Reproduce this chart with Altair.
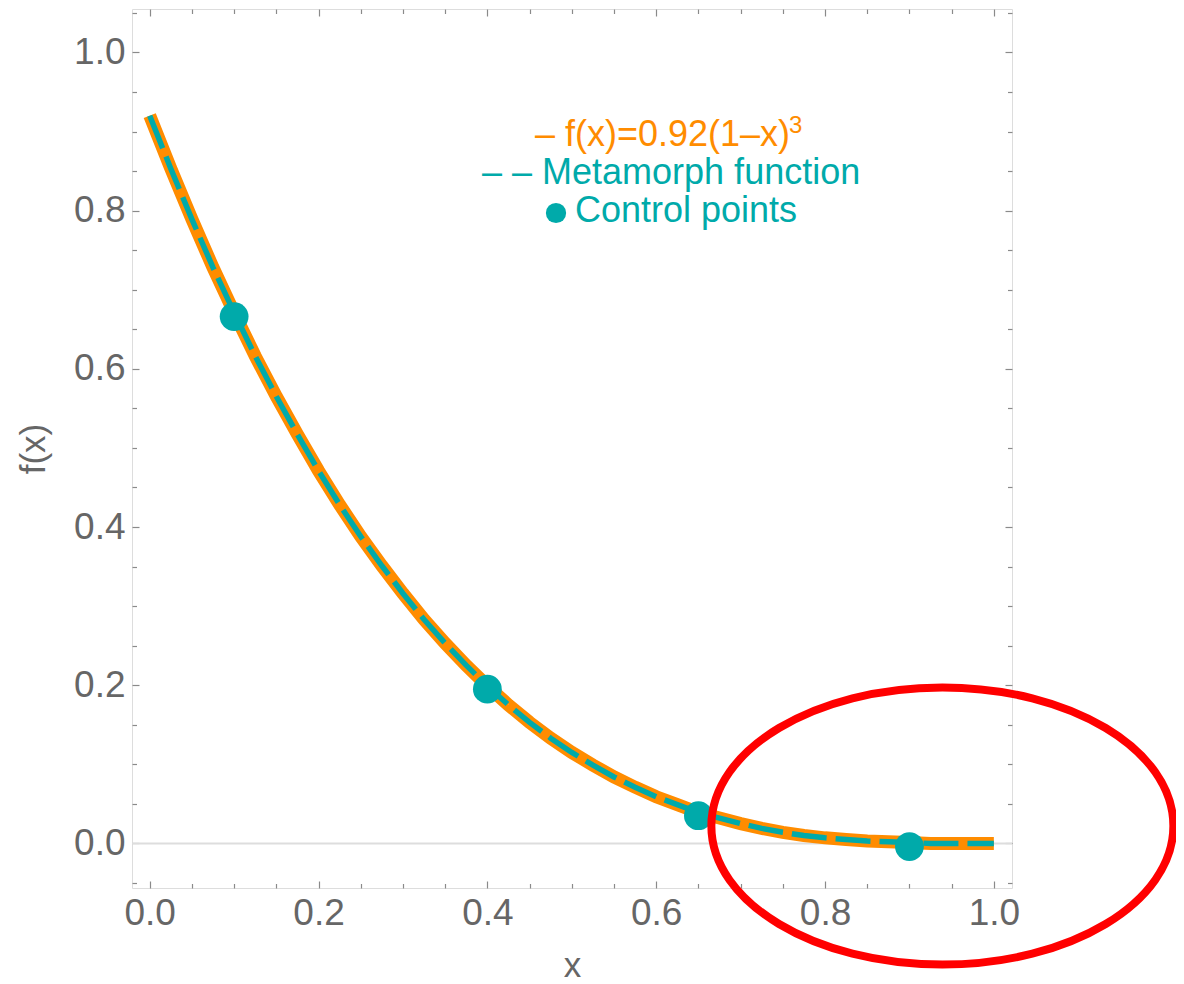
import altair as alt
import pandas as pd

# ---- data ----
x_grid = [0.0, 0.025, 0.05, 0.075, 0.1, 0.125, 0.15, 0.175, 0.2, 0.225, 0.25, 0.275, 0.3,
          0.325, 0.35, 0.375, 0.4, 0.425, 0.45, 0.475, 0.5, 0.525, 0.55, 0.575, 0.6, 0.625,
          0.65, 0.675, 0.7, 0.725, 0.75, 0.775, 0.8, 0.825, 0.85, 0.875, 0.9, 0.925, 0.95,
          0.975, 1.0]
f_vals = [0.920, 0.853, 0.789, 0.728, 0.671, 0.616, 0.565, 0.517, 0.471, 0.428, 0.388,
          0.351, 0.316, 0.283, 0.253, 0.225, 0.199, 0.175, 0.153, 0.133, 0.115, 0.099,
          0.084, 0.071, 0.059, 0.049, 0.039, 0.032, 0.025, 0.019, 0.014, 0.010, 0.007,
          0.005, 0.003, 0.002, 0.001, 0.000, 0.000, 0.000, 0.000]
meta_vals = [0.920, 0.853, 0.789, 0.728, 0.671, 0.616, 0.565, 0.517, 0.471, 0.428, 0.388,
             0.351, 0.316, 0.283, 0.253, 0.225, 0.199, 0.175, 0.153, 0.133, 0.115, 0.099,
             0.084, 0.071, 0.059, 0.049, 0.039, 0.032, 0.025, 0.019, 0.014, 0.010, 0.007,
             0.005, 0.003, 0.002, 0.001, 0.000, 0.000, 0.000, 0.000]
ctrl_x = [0.1, 0.4, 0.65, 0.9]
ctrl_y = [0.666, 0.195, 0.035, -0.004]

x_major = [0.0, 0.2, 0.4, 0.6, 0.8, 1.0]
x_minor = [0.05, 0.1, 0.15, 0.25, 0.3, 0.35, 0.45, 0.5, 0.55, 0.65, 0.7, 0.75, 0.85, 0.9, 0.95]
y_major = [0.0, 0.2, 0.4, 0.6, 0.8, 1.0]
y_minor = [-0.05, 0.05, 0.1, 0.15, 0.25, 0.3, 0.35, 0.45, 0.5, 0.55, 0.65, 0.7, 0.75,
           0.85, 0.9, 0.95, 1.05]

ellipse_x = [0.939]
ellipse_y = [0.022]

legend_f = "– f(x)=0.92(1–x)"
legend_sup = "3"
legend_meta = "– – Metamorph function"
legend_ctrl = "Control points"

# ---- styling ----
W, H = 880, 879
ORANGE = "#FF8C00"
TEAL = "#00AAAA"
GREY = "#666666"
FRAME = "#8a8a8a"
FONT = "Liberation Sans"

xs = alt.Scale(domain=[-0.021, 1.0215], nice=False, zero=False)
ys = alt.Scale(domain=[-0.0564, 1.0549], nice=False, zero=False)

curve = pd.DataFrame({"x": x_grid, "f": f_vals, "m": meta_vals})
ctrl = pd.DataFrame({"x": ctrl_x, "y": ctrl_y})
ell = pd.DataFrame({"x": ellipse_x, "y": ellipse_y})
zero = pd.DataFrame({"y": [0.0]})
one = pd.DataFrame({"k": [0]})

main_x_axis = alt.Axis(values=x_major, format=".1f", labelFontSize=37, labelColor=GREY,
                       labelFont=FONT, ticks=False, tickSize=0, domain=False, grid=False,
                       labelPadding=7, title="x", titleFontSize=35, titleColor=GREY,
                       titleFont=FONT, titleFontWeight="normal", titlePadding=17)
main_y_axis = alt.Axis(values=y_major, format=".1f", labelFontSize=37, labelColor=GREY,
                       labelFont=FONT, ticks=False, tickSize=0, domain=False, grid=False,
                       labelPadding=7, title="f(x)", titleFontSize=35, titleColor=GREY,
                       titleFont=FONT, titleFontWeight="normal", titlePadding=22)

zero_rule = alt.Chart(zero).mark_rule(color="#dddddd", strokeWidth=2).encode(
    y=alt.Y("y:Q", scale=ys, axis=main_y_axis))

orange_line = alt.Chart(curve).mark_line(color=ORANGE, strokeWidth=13, strokeCap="butt").encode(
    x=alt.X("x:Q", scale=xs, axis=main_x_axis),
    y=alt.Y("f:Q", scale=ys, axis=None))

teal_line = alt.Chart(curve).mark_line(color=TEAL, strokeWidth=5.5, strokeDash=[35, 9],
                                       strokeCap="butt").encode(
    x=alt.X("x:Q", scale=xs, axis=None),
    y=alt.Y("m:Q", scale=ys, axis=None))

points = alt.Chart(ctrl).mark_circle(color=TEAL, opacity=1, size=830).encode(
    x=alt.X("x:Q", scale=xs, axis=None),
    y=alt.Y("y:Q", scale=ys, axis=None))


def tick_layer(xvals, yvals, size, xorient, yorient):
    return alt.Chart(ctrl).mark_point(opacity=0).encode(
        x=alt.X("x:Q", scale=xs, axis=alt.Axis(
            values=xvals, orient=xorient, offset=-H, tickSize=size, tickColor=FRAME,
            tickWidth=1.2, labels=False, domain=False, grid=False, title=None)),
        y=alt.Y("y:Q", scale=ys, axis=alt.Axis(
            values=yvals, orient=yorient, offset=-W, tickSize=size, tickColor=FRAME,
            tickWidth=1.2, labels=False, domain=False, grid=False, title=None)))


t1 = tick_layer(x_major, y_major, 7, "top", "right")
t2 = tick_layer(x_minor, y_minor, 4.5, "top", "right")
t3 = tick_layer(x_major, y_major, 7, "bottom", "left")
t4 = tick_layer(x_minor, y_minor, 4.5, "bottom", "left")

ellipse_path = ("M -1 0 C -1 -0.3314 -0.5523 -0.6 0 -0.6 "
                "C 0.5523 -0.6 1 -0.3314 1 0 "
                "C 1 0.3314 0.5523 0.6 0 0.6 "
                "C -0.5523 0.6 -1 0.3314 -1 0 Z")
ellipse = alt.Chart(ell).mark_point(shape=ellipse_path, size=462 * 462, filled=False,
                                    stroke="#FF0000", strokeWidth=8, opacity=1,
                                    strokeOpacity=1).encode(
    x=alt.X("x:Q", scale=xs, axis=None),
    y=alt.Y("y:Q", scale=ys, axis=None))

txt = dict(font=FONT, fontSize=36, align="left", baseline="alphabetic")
leg1 = alt.Chart(one).mark_text(color=ORANGE, **txt).encode(
    x=alt.value(403), y=alt.value(137), text=alt.value(legend_f))
leg1s = alt.Chart(one).mark_text(color=ORANGE, font=FONT, fontSize=24, align="left",
                                 baseline="alphabetic").encode(
    x=alt.value(657), y=alt.value(124), text=alt.value(legend_sup))
leg2 = alt.Chart(one).mark_text(color=TEAL, **txt).encode(
    x=alt.value(350), y=alt.value(175), text=alt.value(legend_meta))
leg3d = alt.Chart(one).mark_circle(color=TEAL, opacity=1, size=410).encode(
    x=alt.value(424), y=alt.value(204))
leg3 = alt.Chart(one).mark_text(color=TEAL, **txt).encode(
    x=alt.value(443), y=alt.value(213), text=alt.value(legend_ctrl))

chart = alt.layer(
    zero_rule, orange_line, teal_line, points, t1, t2, t3, t4,
    leg1, leg1s, leg2, leg3d, leg3, ellipse
).resolve_axis(x="independent", y="independent").properties(
    width=W, height=H,
    autosize=alt.AutoSizeParams(type="none"),
    padding={"left": 124, "top": 1, "right": 164, "bottom": 96},
).configure_view(stroke=FRAME, strokeWidth=1.3).configure(background="white")

chart.save("out.html", embed_options={"renderer": "svg", "actions": False})
